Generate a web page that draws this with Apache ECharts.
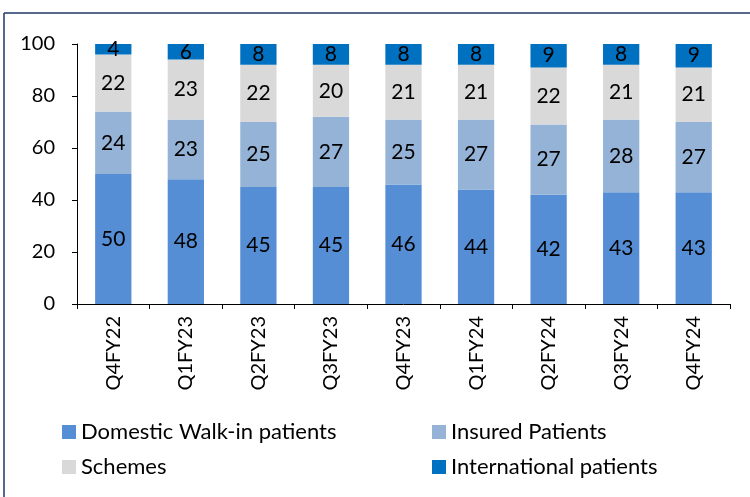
<!DOCTYPE html>
<html>
<head>
<meta charset="utf-8">
<script src="https://cdn.jsdelivr.net/npm/echarts@6/dist/echarts.min.js"></script>
<style>
  html, body { margin: 0; padding: 0; background: #fff; }
  #chart { width: 750px; height: 497px; }
</style>
</head>
<body>
<div id="chart"></div>
<script>
var categories = ["Q4FY22", "Q1FY23", "Q2FY23", "Q3FY23", "Q4FY23", "Q1FY24", "Q2FY24", "Q3FY24", "Q4FY24"];
var domestic = [50, 48, 45, 45, 46, 44, 42, 43, 43];
var insured = [24, 23, 25, 27, 25, 27, 27, 28, 27];
var schemes = [22, 23, 22, 20, 21, 21, 22, 21, 21];
var international = [4, 6, 8, 8, 8, 8, 9, 8, 9];
var yTicks = [0, 20, 40, 60, 80, 100];

var font = "Lato, 'Open Sans', sans-serif";

function mkSeries(name, data, color) {
    return {
        name: name,
        type: "bar",
        stack: "total",
        data: data,
        barCategoryGap: "50%",
        itemStyle: { color: color },
        label: {
            show: true,
            position: "inside",
            color: "#000",
            fontSize: 21,
            fontFamily: font
        }
    };
}

function mkLegend(names, left) {
    return {
        data: names,
        orient: "vertical",
        left: left,
        top: 421,
        padding: 0,
        icon: "rect",
        itemGap: 13,
        itemWidth: 14,
        itemHeight: 14,
        textStyle: { fontSize: 22, lineHeight: 22, color: "#000", fontFamily: font }
    };
}

var chart = echarts.init(document.getElementById("chart"));
chart.setOption({
    animation: false,
    grid: { left: 77, right: 20, top: 44, bottom: 193 },
    legend: [
        mkLegend(["Domestic Walk-in patients", "Schemes"], 62),
        mkLegend(["Insured Patients", "International patients"], 432)
    ],
    xAxis: {
        type: "category",
        data: categories,
        axisLine: { lineStyle: { color: "#000", width: 1 } },
        axisTick: { show: true, length: 5, lineStyle: { color: "#000" } },
        axisLabel: { rotate: 90, color: "#000", fontSize: 20, fontFamily: font, margin: 12 }
    },
    yAxis: {
        type: "value",
        min: 0,
        max: 100,
        interval: 20,
        axisLine: { show: true, lineStyle: { color: "#000", width: 1 } },
        axisTick: { show: true, length: 5, lineStyle: { color: "#000" } },
        splitLine: { show: false },
        axisLabel: {
            color: "#000", fontSize: 20, fontFamily: font, margin: 22,
            formatter: function (v) { return yTicks.indexOf(v) >= 0 ? String(v) : ""; }
        }
    },
    series: [
        mkSeries("Domestic Walk-in patients", domestic, "#558ED5"),
        mkSeries("Insured Patients", insured, "#95B3D7"),
        mkSeries("Schemes", schemes, "#D9D9D9"),
        mkSeries("International patients", international, "#0070C0")
    ],
    graphic: [
        { type: "line", shape: { x1: 4, y1: 13, x2: 750, y2: 13 }, style: { stroke: "#1F3864", lineWidth: 1.5 } },
        { type: "line", shape: { x1: 4, y1: 13, x2: 4, y2: 497 }, style: { stroke: "#1F3864", lineWidth: 1.5 } }
    ]
});
</script>
</body>
</html>
